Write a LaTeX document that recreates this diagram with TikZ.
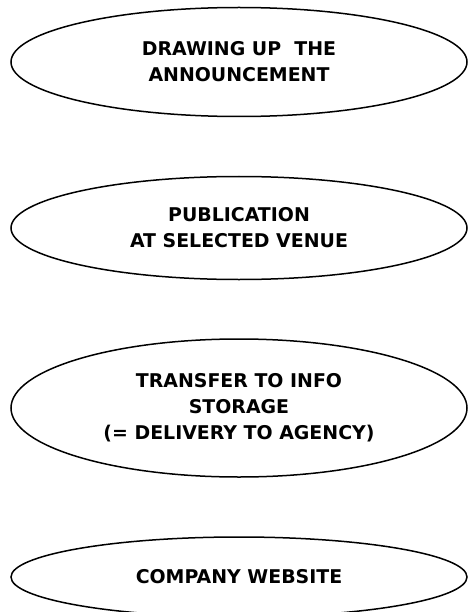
\documentclass[tikz,border=0pt]{standalone}
\usepackage{fontspec}
\setmainfont{DejaVu Sans}
\usetikzlibrary{shapes.geometric}

\begin{document}
\begin{tikzpicture}[x=1bp, y=-1bp,
  stage/.style={ellipse, draw, line width=1.5bp, inner sep=0pt, align=center,
    font=\fontsize{19}{26}\selectfont\bfseries}]
  \useasboundingbox (0,0) rectangle (468,612);
  % steps of the procedure
  \node[stage, minimum width=456bp, minimum height=109bp] (draft) at (239,62)
    {DRAWING UP\ \ THE\\ANNOUNCEMENT};
  \node[stage, minimum width=456bp, minimum height=103bp] (venue) at (239,228)
    {PUBLICATION\\AT SELECTED VENUE};
  \node[stage, minimum width=456bp, minimum height=138bp] (storage) at (239,408)
    {TRANSFER TO INFO\\STORAGE\\(= DELIVERY TO AGENCY)};
  \node[stage, minimum width=456bp, minimum height=80bp] (website) at (239,577)
    {COMPANY WEBSITE};
\end{tikzpicture}
\end{document}
